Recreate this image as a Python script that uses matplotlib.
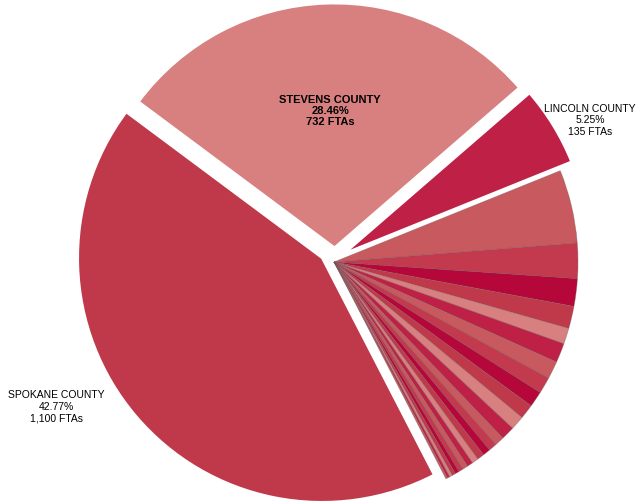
import matplotlib.pyplot as plt

plt.rcParams['font.family'] = ['Liberation Sans', 'DejaVu Sans']

# FTAs by county (three named counties, then the small ones, largest first)
counties = ['SPOKANE COUNTY', 'STEVENS COUNTY', 'LINCOLN COUNTY']
big_ftas = [1100, 732, 135]
small_ftas = [125, 60, 47, 38, 27, 33, 30, 28, 27, 25, 24, 23,
              16, 14, 13, 12, 11, 10, 9, 8, 7, 6, 5, 4, 3]
palette = ['#C0394B', '#D88080', '#BE2046', '#C85A5F', '#C33A4E', '#B5073A']

values = big_ftas + small_ftas
total = sum(values)
colors = [palette[i % len(palette)] for i in range(len(values))]

PX = 244.0  # pixels per unit radius

fig = plt.figure(figsize=(6.36, 5.04), dpi=100)
ax = fig.add_axes([0, 0, 1, 1])

wedges, _ = ax.pie(values, colors=colors, startangle=-62.7, counterclock=False,
                   wedgeprops=dict(edgecolor=(0.45, 0.35, 0.35, 0.45), linewidth=0.5))

# pull the three big slices out (offsets in pixels, y up)
offsets = [(-12, 4), (0.5, 14.6), (11, 9)]
for w, (dx, dy) in zip(wedges[:3], offsets):
    w.set_center((dx / PX, dy / PX))
    w.set_edgecolor('white')
    w.set_linewidth(1.5)

# center the pie at the same place as the reference
ax.set_xlim(-334 / PX, (636 - 334) / PX)
ax.set_ylim(-(504 - 262) / PX, 262 / PX)
ax.set_aspect('auto')
ax.axis('off')

def label(i):
    return '%s\n%.2f%%\n%s FTAs' % (counties[i], 100 * big_ftas[i] / total,
                                     format(big_ftas[i], ','))

ax.text(-0.016, 0.62, label(1), ha='center', va='center', fontsize=8,
        fontweight='bold', linespacing=1.12)
ax.text(1.049, 0.58, label(2), ha='center', va='center', fontsize=7.5,
        linespacing=1.18)
ax.text(-1.139, -0.594, label(0), ha='center', va='center', fontsize=7.5,
        linespacing=1.18)

fig.savefig('out.png', dpi=100)
